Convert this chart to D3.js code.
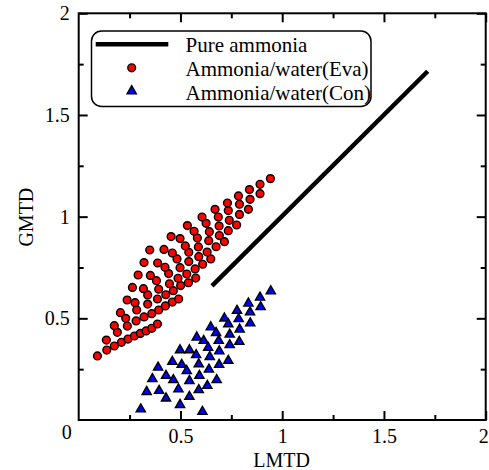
<!DOCTYPE html>
<html>
<head>
<meta charset="utf-8">
<script src="https://cdn.jsdelivr.net/npm/d3@7"></script>
<style>
  body { margin: 0; background: #fff; }
  text { font-family: "Liberation Serif", "Times New Roman", serif; fill: #000; }
</style>
</head>
<body>
<div id="chart-area"></div>
<script>
// values
var evaLmtd = [
  0.092,0.138,0.175,0.210,0.242,0.274,0.303,0.331,0.359,0.387,
  0.136,0.190,0.239,0.282,0.321,0.359,0.393,0.426,0.460,0.491,
  0.175,0.231,0.285,0.339,0.387,0.428,0.465,0.501,0.539,0.575,
  0.205,0.277,0.339,0.393,0.446,0.488,0.531,0.572,0.609,0.649,
  0.238,0.318,0.382,0.442,0.498,0.541,0.590,0.631,0.675,0.716,
  0.264,0.352,0.424,0.483,0.541,0.588,0.639,0.691,0.735,0.776,
  0.292,0.388,0.460,0.524,0.583,0.642,0.690,0.740,0.790,0.834,
  0.321,0.419,0.498,0.567,0.626,0.686,0.735,0.790,0.842,0.891,
  0.349,0.454,0.534,0.606,0.670,0.731,0.785,0.839,0.891,0.942
];
var evaGmtd = [
  0.315,0.344,0.364,0.382,0.398,0.413,0.426,0.438,0.451,0.472,
  0.393,0.431,0.462,0.487,0.507,0.523,0.541,0.561,0.580,0.595,
  0.464,0.500,0.541,0.570,0.595,0.616,0.636,0.661,0.675,0.698,
  0.528,0.577,0.615,0.643,0.670,0.697,0.718,0.743,0.766,0.792,
  0.590,0.646,0.685,0.720,0.749,0.779,0.803,0.826,0.852,0.877,
  0.652,0.711,0.751,0.792,0.825,0.851,0.882,0.907,0.931,0.959,
  0.713,0.772,0.821,0.856,0.895,0.926,0.954,0.982,1.011,1.036,
  0.774,0.839,0.892,0.928,0.967,0.998,1.030,1.061,1.085,1.113,
  0.836,0.902,0.956,0.998,1.036,1.067,1.102,1.133,1.159,1.187
];
var conLmtd = [0.305,0.334,0.362,0.390,0.395,0.429,0.429,0.460,0.465,0.490,0.498,0.498,0.506,0.531,0.544,0.544,0.544,
  0.577,0.580,0.590,0.593,0.590,0.608,0.614,0.636,0.632,0.640,0.644,0.649,0.675,0.678,0.688,0.690,0.691,
  0.716,0.735,0.735,0.742,0.742,0.778,0.786,0.791,0.789,0.834,0.842,0.843,0.891,0.894,0.944];
var conGmtd = [0.053,0.139,0.202,0.259,0.144,0.218,0.107,0.287,0.197,0.152,0.075,0.344,0.272,0.242,0.344,0.193,0.115,
  0.320,0.407,0.275,0.218,0.148,0.041,0.390,0.356,0.169,0.249,0.311,0.457,0.429,0.197,0.390,0.272,0.339,
  0.500,0.472,0.292,0.421,0.369,0.538,0.497,0.446,0.385,0.574,0.530,0.476,0.603,0.556,0.634];
var pureLmtd = [0.655, 1.715];
var pureGmtd = [0.66, 1.715];

var majorTicks = [0.5, 1, 1.5, 2];
var minorTicks = [0.25, 0.75, 1.25, 1.75];
var legendNames = ["Pure ammonia", "Ammonia/water(Eva)", "Ammonia/water(Con)"];

var margin = {top: 13.3, right: 3.3, bottom: 50, left: 78.7};
var width = 489 - margin.left - margin.right;
var height = 470 - margin.top - margin.bottom;

var svg = d3.select("#chart-area").append("svg")
  .attr("width", 489)
  .attr("height", 470);

var g = svg.append("g")
  .attr("transform", "translate(" + margin.left + "," + margin.top + ")");

var x = d3.scaleLinear().domain([0, 2]).range([0, width]);
var y = d3.scaleLinear().domain([0, 2]).range([height, 0]);

// ticks point inwards, on all four sides
var sides = [
  {make: function() { return d3.axisBottom(x); }, tr: "translate(0," + height + ")", lab: true},
  {make: function() { return d3.axisTop(x); }, tr: "translate(0,0)", lab: false},
  {make: function() { return d3.axisLeft(y); }, tr: "translate(0,0)", lab: true},
  {make: function() { return d3.axisRight(y); }, tr: "translate(" + width + ",0)", lab: false}
];

sides.forEach(function(s) {
  [[majorTicks, 9, s.lab], [minorTicks, 5, false]].forEach(function(t) {
    var axis = s.make().tickValues(t[0]).tickSizeInner(-t[1]).tickSizeOuter(0)
      .tickPadding(t[2] ? 9 : 0)
      .tickFormat(t[2] ? d3.format("") : function() { return ""; });
    var a = g.append("g").attr("transform", s.tr).call(axis);
    a.select(".domain").remove();
    a.selectAll("line").attr("stroke", "#000").attr("stroke-width", 2);
    a.selectAll("text").attr("font-size", "20px").attr("fill", "#000")
      .style("font-family", "'Liberation Serif', 'Times New Roman', serif");
  });
});

// last x label sits at the window edge, pull it in a little
g.selectAll(".tick text").filter(function(d) { return d === 2 && this.getAttribute("dy") === "0.71em"; })
  .attr("dx", -2.5);

// single 0 at the corner
g.append("text")
  .attr("x", -7)
  .attr("y", height + 19)
  .attr("text-anchor", "end")
  .attr("font-size", "20px")
  .text("0");

// frame
g.append("rect")
  .attr("width", width)
  .attr("height", height)
  .attr("fill", "none")
  .attr("stroke", "#000")
  .attr("stroke-width", 2);

// axis titles
g.append("text")
  .attr("x", width / 2 - 0.5)
  .attr("y", height + 47)
  .attr("text-anchor", "middle")
  .attr("font-size", "20px")
  .text("LMTD");

g.append("text")
  .attr("transform", "rotate(-90)")
  .attr("x", -(height / 2) - 0.5)
  .attr("y", -46)
  .attr("text-anchor", "middle")
  .attr("font-size", "20px")
  .text("GMTD");

// pure ammonia line
var line = d3.line()
  .x(function(d) { return x(d[0]); })
  .y(function(d) { return y(d[1]); });

g.append("path")
  .datum(d3.zip(pureLmtd, pureGmtd))
  .attr("d", line)
  .attr("fill", "none")
  .attr("stroke", "#000")
  .attr("stroke-width", 4.5);

var tri = "M0,-5.3L4.6,2.7L-4.6,2.7Z";

g.selectAll(".eva")
  .data(d3.zip(evaLmtd, evaGmtd))
  .enter().append("circle")
  .attr("class", "eva")
  .attr("cx", function(d) { return x(d[0]); })
  .attr("cy", function(d) { return y(d[1]); })
  .attr("r", 3.9)
  .attr("fill", "#ff0000")
  .attr("stroke", "#000")
  .attr("stroke-width", 1.4);

g.selectAll(".con")
  .data(d3.zip(conLmtd, conGmtd))
  .enter().append("path")
  .attr("class", "con")
  .attr("d", tri)
  .attr("transform", function(d) { return "translate(" + x(d[0]) + "," + y(d[1]) + ")"; })
  .attr("fill", "#0000ff")
  .attr("stroke", "#000")
  .attr("stroke-width", 1.4);

// legend
var lg = svg.append("g");
lg.append("rect")
  .attr("x", 91.5).attr("y", 31)
  .attr("width", 279.5).attr("height", 75.5)
  .attr("rx", 10).attr("ry", 10)
  .attr("fill", "#fff")
  .attr("stroke", "#000")
  .attr("stroke-width", 1.5);

lg.append("line")
  .attr("x1", 95.7).attr("x2", 168.3)
  .attr("y1", 44.3).attr("y2", 44.3)
  .attr("stroke", "#000")
  .attr("stroke-width", 4.5);

lg.append("circle")
  .attr("cx", 131.7).attr("cy", 67.8).attr("r", 3.9)
  .attr("fill", "#ff0000").attr("stroke", "#000").attr("stroke-width", 1.4);

lg.append("path")
  .attr("d", tri)
  .attr("transform", "translate(131.7,91)")
  .attr("fill", "#0000ff").attr("stroke", "#000").attr("stroke-width", 1.4);

lg.selectAll(".lt")
  .data(legendNames)
  .enter().append("text")
  .attr("class", "lt")
  .attr("x", 185.5)
  .attr("y", function(d, i) { return 51.7 + i * 24.2; })
  .attr("font-size", "21px")
  .text(function(d) { return d; });
</script>
</body>
</html>
